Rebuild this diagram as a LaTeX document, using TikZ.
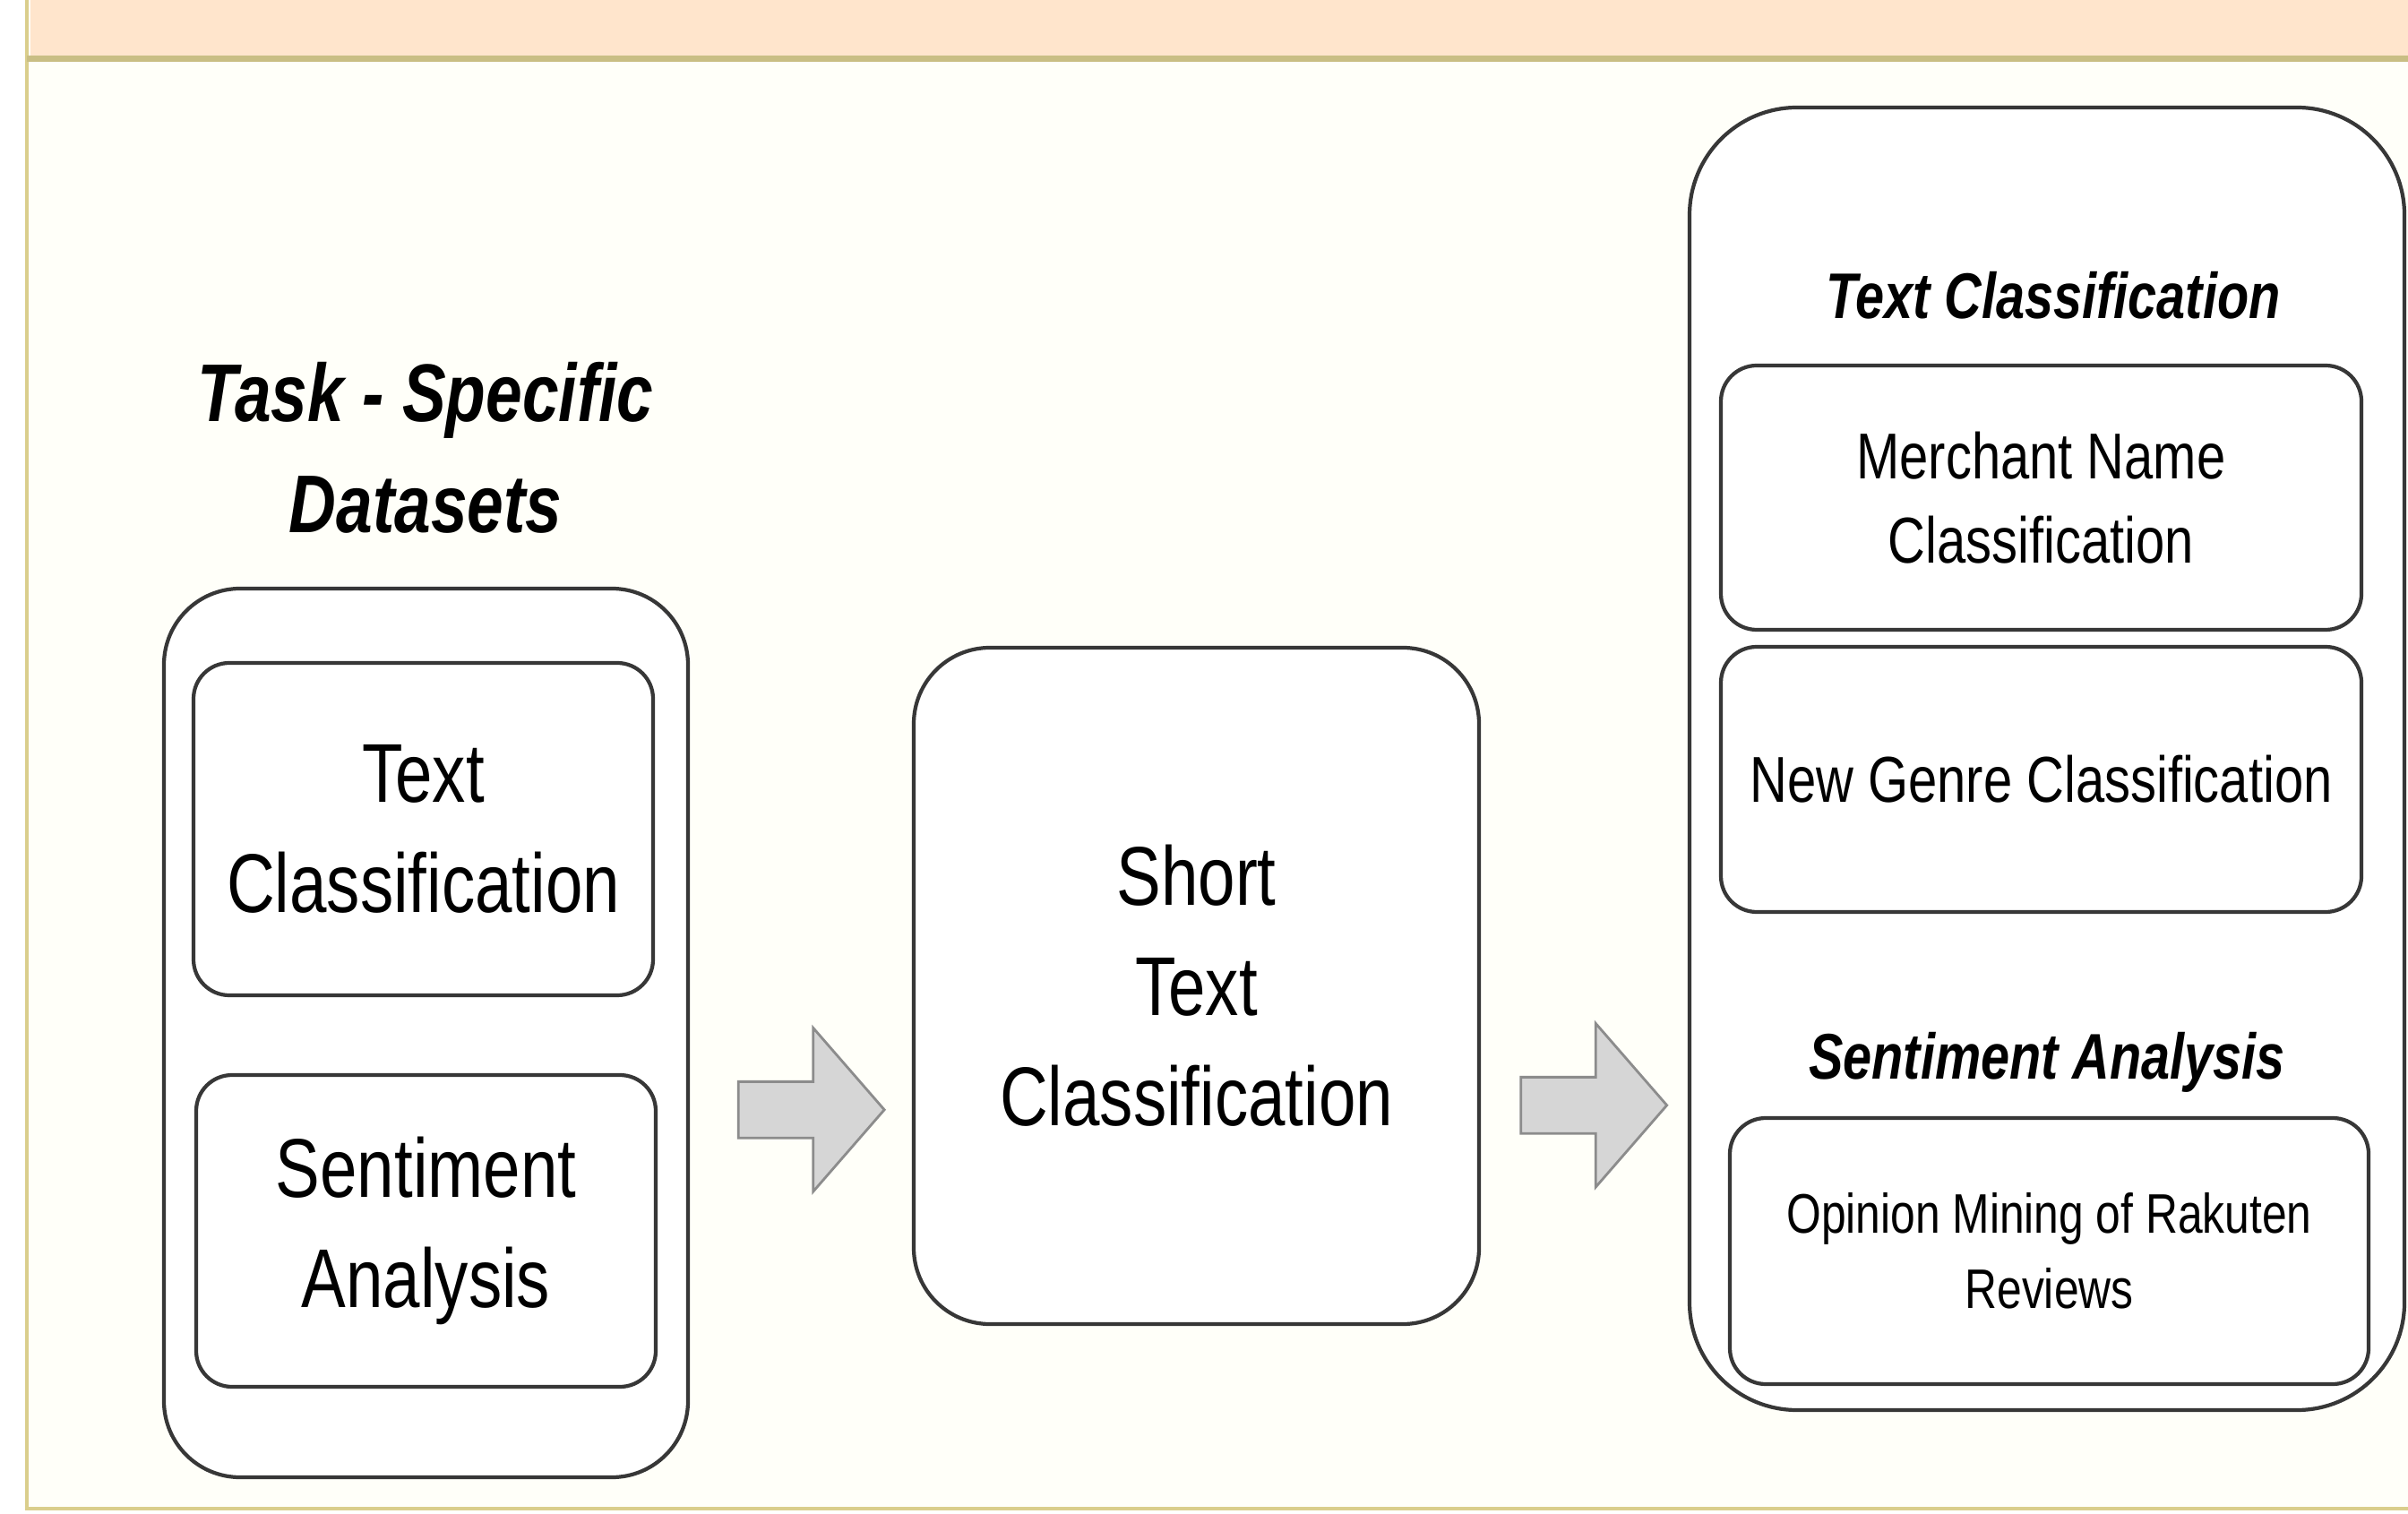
\documentclass[tikz,border=0pt]{standalone}
\usepackage{fontspec}
\setmainfont{Liberation Sans}[FakeStretch=0.8]
\usetikzlibrary{shapes.arrows, calc}

\definecolor{headfill}{RGB}{255,229,204}
\definecolor{headline}{RGB}{201,190,132}
\definecolor{framecol}{RGB}{218,206,140}
\definecolor{bodyfill}{RGB}{255,255,249}
\definecolor{boxline}{RGB}{55,55,55}
\definecolor{arrowfill}{RGB}{214,214,214}
\definecolor{arrowline}{RGB}{140,140,140}

\tikzset{
  box/.style={draw=boxline, line width=1.2pt, fill=white, rounded corners=#1,
    align=center, inner sep=0pt},
  box/.default=0.4cm,
  bigtxt/.style={font=\fontsize{26.5}{35}\selectfont},
  midtxt/.style={font=\fontsize{20.6}{26.6}\selectfont},
  smalltxt/.style={font=\fontsize{17.7}{23.8}\selectfont},
  headtxt/.style={align=center, font=\fontsize{26}{35.4}\selectfont\bfseries\itshape},
  subhead/.style={font=\fontsize{20.5}{25}\selectfont\bfseries\itshape},
  blockarrow/.style={single arrow, draw=arrowline, fill=arrowfill, line width=0.8pt,
    inner sep=0pt, text height=0.6cm, text depth=0pt,
    single arrow head extend=0.6cm, single arrow tip angle=98,
    minimum height=1.63cm}
}

\begin{document}
\begin{tikzpicture}
            \useasboundingbox (0,0) rectangle (26.88,-16.90);

            \draw[framecol, line width=1pt, fill=bodyfill] (0.30,0.5) rectangle (27.5,-16.84);
            \fill[headfill] (0.34,0.5) rectangle (27.5,-0.66);
            \draw[headline, line width=2pt] (0.30,-0.66) -- (27.5,-0.66);

            \node[headtxt] (dshead) at (4.75,-5.00) {Task - Specific\\Datasets};
            \node[box=0.85cm, minimum width=5.85cm, minimum height=9.92cm] (dsbox) at (4.755,-11.53) {};
            \node[box, bigtxt, minimum width=5.13cm, minimum height=3.71cm] (tcbox) at (4.725,-9.255) {Text\\Classification};
            \node[box, bigtxt, minimum width=5.13cm, minimum height=3.48cm] (sabox) at (4.755,-13.74) {Sentiment\\Analysis};

            \node[box=0.85cm, bigtxt, minimum width=6.31cm, minimum height=7.55cm] (stcbox) at (13.355,-11.005) {Short\\Text\\Classification};

            \node[box=1.2cm, minimum width=7.98cm, minimum height=14.54cm] (appbox) at (22.85,-8.47) {};
            \node[subhead] (tchead) at (22.92,-3.30) {Text Classification};
            \node[box, midtxt, minimum width=7.15cm, minimum height=2.95cm] (mnbox) at (22.785,-5.555) {Merchant Name\\Classification};
            \node[box, midtxt, minimum width=7.15cm, minimum height=2.96cm] (ngbox) at (22.785,-8.70) {New Genre Classification};
            \node[subhead] (sahead) at (22.85,-11.86) {Sentiment Analysis};
            \node[box, smalltxt, minimum width=7.13cm, minimum height=2.97cm] (ombox) at (22.875,-13.965) {Opinion Mining of Rakuten\\Reviews};

            \node[blockarrow] (arrowone) at ($(dsbox.east)!0.5!(stcbox.west)+(-0.02,-1.12)$) {};
            \node[blockarrow] (arrowtwo) at ($(stcbox.east)!0.5!(appbox.west)+(-0.03,-2.60)$) {};
        \end{tikzpicture}
\end{document}
